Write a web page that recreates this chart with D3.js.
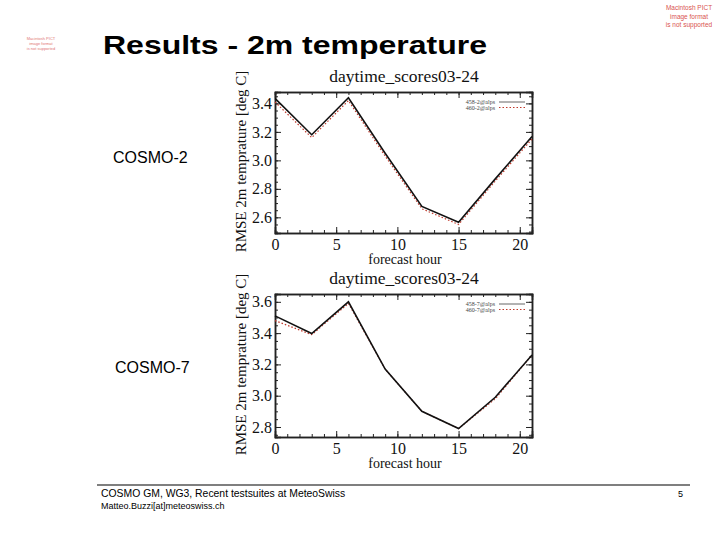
<!DOCTYPE html>
<html>
<head>
<meta charset="utf-8">
<script src="https://cdn.jsdelivr.net/npm/d3@7"></script>
<style>
  body { margin: 0; background: #fff; }
  svg { display: block; }
</style>
</head>
<body>
<div id="slide"></div>
<script>
// forecast hours and RMSE values
const hours = [0, 3, 6, 9, 12, 15, 18, 21];
const cosmo2_458 = [3.435, 3.18, 3.44, 3.05, 2.677, 2.565, 2.87, 3.168];
const cosmo2_460 = [3.41, 3.16, 3.42, 3.03, 2.66, 2.55, 2.855, 3.15];
const cosmo7_458 = [3.51, 3.397, 3.6, 3.17, 2.90, 2.79, 2.99, 3.26];
const cosmo7_460 = [3.48, 3.39, 3.59, 3.17, 2.90, 2.79, 2.98, 3.26];
const xTicks = [0, 5, 10, 15, 20];
const yTicks2 = [2.6, 2.8, 3.0, 3.2, 3.4];
const yTicks7 = [2.8, 3.0, 3.2, 3.4, 3.6];

const svg = d3.select("#slide")
    .append("svg")
    .attr("width", 720)
    .attr("height", 540);

const red = "#d9534f";
const serif = "'Liberation Serif', 'Times New Roman', serif";
const sans = "Arial, 'Liberation Sans', sans-serif";

// placeholder notes for missing images
const noteR = svg.append("g").attr("fill", red).attr("font-family", sans)
    .attr("font-size", 6.5).attr("text-anchor", "middle");
["Macintosh PICT", "image format", "is not supported"].forEach((t, i) => {
    noteR.append("text").attr("x", 689).attr("y", 10 + i * 8.5).text(t);
});
const noteL = svg.append("g").attr("fill", red).attr("font-family", sans)
    .attr("font-size", 4).attr("text-anchor", "middle").attr("opacity", 0.8);
["Macintosh PICT", "image format", "is not supported"].forEach((t, i) => {
    noteL.append("text").attr("x", 41).attr("y", 40 + i * 5).text(t);
});

svg.append("text")
    .attr("x", 103).attr("y", 54)
    .attr("font-family", sans)
    .attr("font-weight", "bold")
    .attr("font-size", 26)
    .attr("textLength", 384)
    .attr("lengthAdjust", "spacingAndGlyphs")
    .text("Results - 2m temperature");

svg.append("text").attr("x", 113).attr("y", 163)
    .attr("font-family", sans).attr("font-size", 16)
    .text("COSMO-2");
svg.append("text").attr("x", 115).attr("y", 373)
    .attr("font-family", sans).attr("font-size", 16)
    .text("COSMO-7");

function drawPanel(top, bottom, yDomain, yTicks, solid, dotted, names) {
    const left = 275, right = 532;
    const x = d3.scaleLinear().domain([0, 21]).range([left, right]);
    const y = d3.scaleLinear().domain(yDomain).range([bottom, top]);
    const g = svg.append("g").attr("font-family", serif);

    const minorX = d3.range(0, 22, 1);
    const minorY = d3.range(Math.ceil(yDomain[0] / 0.05) * 0.05, yDomain[1], 0.05);

    // major ticks + labels
    g.append("g").attr("transform", `translate(0,${bottom})`)
        .call(d3.axisBottom(x).tickValues(xTicks).tickSize(-6).tickPadding(6).tickFormat(d3.format("d")));
    g.append("g").attr("transform", `translate(0,${top})`)
        .call(d3.axisTop(x).tickValues(xTicks).tickSize(-6).tickFormat(""));
    g.append("g").attr("transform", `translate(${left},0)`)
        .call(d3.axisLeft(y).tickValues(yTicks).tickSize(-6).tickPadding(3).tickFormat(d3.format(".1f")));
    g.append("g").attr("transform", `translate(${right},0)`)
        .call(d3.axisRight(y).tickValues(yTicks).tickSize(-6).tickFormat(""));

    // minor ticks
    g.append("g").attr("transform", `translate(0,${bottom})`)
        .call(d3.axisBottom(x).tickValues(minorX).tickSize(-3).tickFormat(""));
    g.append("g").attr("transform", `translate(0,${top})`)
        .call(d3.axisTop(x).tickValues(minorX).tickSize(-3).tickFormat(""));
    g.append("g").attr("transform", `translate(${left},0)`)
        .call(d3.axisLeft(y).tickValues(minorY).tickSize(-3).tickFormat(""));
    g.append("g").attr("transform", `translate(${right},0)`)
        .call(d3.axisRight(y).tickValues(minorY).tickSize(-3).tickFormat(""));

    g.selectAll(".domain").attr("stroke", "#222").attr("stroke-width", 1.5);
    g.selectAll(".tick line").attr("stroke", "#222");
    g.selectAll(".tick text").attr("font-size", 16).attr("fill", "#111")
        .attr("font-family", serif);

    const line = d3.line().x((d, i) => x(hours[i])).y(d => y(d));

    g.append("path").datum(dotted).attr("d", line)
        .attr("fill", "none").attr("stroke", "#c0392b").attr("stroke-width", 1.2)
        .attr("stroke-dasharray", "1.5 2");
    g.append("path").datum(solid).attr("d", line)
        .attr("fill", "none").attr("stroke", "#111").attr("stroke-width", 1.6);

    // legend
    const ly = top + 10;
    names.forEach((n, i) => {
        g.append("text").attr("x", 495).attr("y", ly + i * 5.5 + 2)
            .attr("text-anchor", "end").attr("font-size", 6).attr("fill", "#444").text(n);
        g.append("line").attr("x1", 499).attr("x2", 525)
            .attr("y1", ly + i * 5.5).attr("y2", ly + i * 5.5)
            .attr("stroke", i === 0 ? "#666" : "#c0392b")
            .attr("stroke-width", 1)
            .attr("stroke-dasharray", i === 0 ? null : "1.5 2");
    });

    g.append("text").attr("x", 404).attr("y", top - 10)
        .attr("text-anchor", "middle").attr("font-size", 17.5).attr("fill", "#111")
        .text("daytime_scores03-24");
    g.append("text").attr("x", 405).attr("y", bottom + 31)
        .attr("text-anchor", "middle").attr("font-size", 14).attr("fill", "#111")
        .text("forecast hour");
    g.append("text")
        .attr("transform", "rotate(-90)")
        .attr("x", -(top + bottom) / 2 + 1).attr("y", 246)
        .attr("text-anchor", "middle").attr("font-size", 15).attr("fill", "#111")
        .text("RMSE 2m temprature [deg C]");
}

drawPanel(92, 233, [2.49, 3.48], yTicks2, cosmo2_458, cosmo2_460, ["458-2@alps", "460-2@alps"]);
drawPanel(294, 437, [2.736, 3.65], yTicks7, cosmo7_458, cosmo7_460, ["458-7@alps", "460-7@alps"]);

// footer
svg.append("line").attr("x1", 97).attr("x2", 690).attr("y1", 485).attr("y2", 485)
    .attr("stroke", "#000").attr("stroke-width", 1.2);
svg.append("text").attr("x", 101).attr("y", 497)
    .attr("font-family", sans).attr("font-size", 10.4)
    .text("COSMO GM, WG3, Recent testsuites at MeteoSwiss");
svg.append("text").attr("x", 101).attr("y", 509)
    .attr("font-family", sans).attr("font-size", 9)
    .text("Matteo.Buzzi[at]meteoswiss.ch");
svg.append("text").attr("x", 678).attr("y", 497)
    .attr("font-family", sans).attr("font-size", 9)
    .text("5");
</script>
</body>
</html>
